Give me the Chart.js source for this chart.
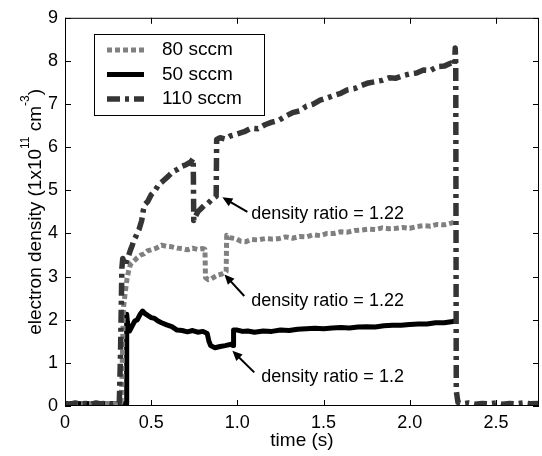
<!DOCTYPE html>
<html lang="en">
<head>
<meta charset="UTF-8">
<title>electron density vs time</title>
<script src="https://cdn.jsdelivr.net/npm/chart.js"></script>
<style>
  html, body { margin: 0; padding: 0; background: #fff; }
</style>
</head>
<body>
<canvas id="densityChart" width="542" height="456"></canvas>
<script>
// time (s) / electron density (1e11 cm^-3), one pair per flow rate
const t80 = [0, 0.05, 0.10, 0.15, 0.20, 0.25, 0.30, 0.325, 0.33, 0.335,
  0.34, 0.35, 0.36, 0.37, 0.38, 0.40, 0.42, 0.44, 0.46, 0.48,
  0.50, 0.53, 0.56, 0.59, 0.62, 0.65, 0.68, 0.71, 0.74, 0.77,
  0.80, 0.812, 0.815, 0.83, 0.85, 0.87, 0.89, 0.91, 0.93, 0.935,
  0.938, 0.96, 0.99, 1.02, 1.05, 1.08, 1.12, 1.16, 1.20, 1.24,
  1.28, 1.32, 1.36, 1.40, 1.44, 1.48, 1.52, 1.56, 1.60, 1.64,
  1.68, 1.72, 1.76, 1.80, 1.84, 1.88, 1.92, 1.96, 2.00, 2.04,
  2.08, 2.12, 2.16, 2.20, 2.24, 2.265];
const n80 = [0.05, 0.06, 0.05, 0.06, 0.05, 0.06, 0.05, 0.08, 0.6, 1.6,
  2.3, 2.65, 2.95, 3.15, 3.28, 3.36, 3.44, 3.5, 3.53, 3.6,
  3.62, 3.66, 3.73, 3.7, 3.69, 3.66, 3.65, 3.62, 3.66, 3.63,
  3.65, 3.63, 2.98, 2.93, 2.95, 3.0, 3.04, 3.06, 3.1, 3.12,
  3.96, 3.9, 3.88, 3.82, 3.81, 3.86, 3.85, 3.88, 3.87, 3.88,
  3.92, 3.89, 3.93, 3.92, 3.97, 3.95, 4.0, 4.0, 4.04, 4.03,
  4.07, 4.08, 4.1, 4.09, 4.13, 4.11, 4.12, 4.14, 4.12, 4.16,
  4.18, 4.17, 4.21, 4.2, 4.24, 4.27];

const t50 = [0, 0.05, 0.10, 0.15, 0.20, 0.25, 0.30, 0.355, 0.358, 0.362,
  0.368, 0.375, 0.39, 0.405, 0.42, 0.435, 0.45, 0.465, 0.48, 0.50,
  0.52, 0.54, 0.56, 0.59, 0.62, 0.65, 0.68, 0.71, 0.74, 0.77,
  0.80, 0.825, 0.835, 0.845, 0.87, 0.90, 0.93, 0.96, 0.975, 0.978,
  1.00, 1.03, 1.06, 1.10, 1.15, 1.20, 1.25, 1.30, 1.35, 1.40,
  1.45, 1.50, 1.55, 1.60, 1.65, 1.70, 1.75, 1.80, 1.85, 1.90,
  1.95, 2.00, 2.05, 2.10, 2.15, 2.20, 2.25, 2.27];
const n50 = [0.05, 0.06, 0.05, 0.06, 0.05, 0.06, 0.05, 0.05, 2.13, 1.95,
  1.78, 1.74, 1.86, 1.97, 2.0, 2.12, 2.2, 2.14, 2.1, 2.05,
  2.03, 1.97, 1.93, 1.88, 1.84, 1.76, 1.75, 1.72, 1.75, 1.71,
  1.73, 1.68, 1.5, 1.4, 1.35, 1.38, 1.4, 1.43, 1.4, 1.76,
  1.76, 1.73, 1.74, 1.71, 1.74, 1.73, 1.76, 1.75, 1.78, 1.79,
  1.8, 1.79, 1.81, 1.82, 1.81, 1.83, 1.84, 1.83, 1.86, 1.87,
  1.87, 1.89, 1.9, 1.9, 1.93, 1.93, 1.96, 1.98];

const t110 = [0, 0.03, 0.06, 0.09, 0.12, 0.15, 0.18, 0.21, 0.24, 0.27,
  0.30, 0.315, 0.322, 0.33, 0.335, 0.34, 0.35, 0.36, 0.37, 0.38,
  0.39, 0.40, 0.41, 0.42, 0.43, 0.445, 0.455, 0.465, 0.48, 0.50,
  0.52, 0.545, 0.57, 0.60, 0.625, 0.65, 0.68, 0.705, 0.73, 0.744,
  0.747, 0.755, 0.77, 0.79, 0.81, 0.83, 0.85, 0.87, 0.877, 0.88,
  0.90, 0.93, 0.96, 1.00, 1.04, 1.08, 1.12, 1.16, 1.20, 1.24,
  1.28, 1.32, 1.36, 1.40, 1.44, 1.48, 1.52, 1.56, 1.60, 1.64,
  1.68, 1.72, 1.76, 1.80, 1.84, 1.88, 1.92, 1.96, 2.00, 2.04,
  2.08, 2.12, 2.16, 2.20, 2.24, 2.26, 2.264, 2.267, 2.27, 2.28,
  2.30, 2.34, 2.38, 2.42, 2.46, 2.50, 2.54, 2.58, 2.62, 2.66,
  2.70, 2.75];
const n110 = [0.06, 0.04, 0.07, 0.05, 0.06, 0.04, 0.07, 0.05, 0.06, 0.04,
  0.06, 0.08, 1.2, 3.2, 3.42, 3.36, 3.28, 3.38, 3.5, 3.62,
  3.72, 3.85, 3.92, 4.02, 4.1, 4.3, 4.55, 4.68, 4.74, 4.9,
  4.98, 5.14, 5.22, 5.33, 5.43, 5.48, 5.56, 5.6, 5.66, 5.74,
  4.3, 4.38, 4.5, 4.58, 4.66, 4.7, 4.78, 4.84, 4.86, 6.18,
  6.22, 6.19, 6.26, 6.31, 6.36, 6.44, 6.43, 6.52, 6.58, 6.62,
  6.72, 6.8, 6.84, 6.95, 7.0, 7.09, 7.14, 7.2, 7.25, 7.33,
  7.36, 7.43, 7.49, 7.52, 7.55, 7.61, 7.6, 7.66, 7.7, 7.72,
  7.79, 7.78, 7.87, 7.88, 7.95, 7.9, 8.3, 7.95, 0.35, 0.08,
  0.05, 0.07, 0.04, 0.06, 0.05, 0.07, 0.04, 0.06, 0.05, 0.07,
  0.05, 0.06];

const seriesNames = ["80 sccm", "50 sccm", "110 sccm"];
const xTickVals = [0, 0.5, 1, 1.5, 2, 2.5];
const yTickVals = [0, 1, 2, 3, 4, 5, 6, 7, 8, 9];

// arrow notes, in data coords (head, tail, text start)
const notes = [
  { head: [0.913, 4.84], tail: [1.058, 4.50], at: [1.081, 4.45], text: "density ratio = 1.22" },
  { head: [0.925, 3.05], tail: [1.040, 2.55], at: [1.081, 2.43], text: "density ratio = 1.22" },
  { head: [0.971, 1.28], tail: [1.098, 0.78], at: [1.139, 0.665], text: "density ratio = 1.2" }
];

const FONT = "'Liberation Sans', Arial, sans-serif";
const pts = (ts, vs) => ts.map((t, i) => ({ x: t, y: vs[i] }));

function arrow(ctx, x0, y0, x1, y1) {
  const a = Math.atan2(y1 - y0, x1 - x0);
  const len = 10, w = 4.5;
  ctx.beginPath();
  ctx.moveTo(x0, y0);
  ctx.lineTo(x1 - Math.cos(a) * len * 0.7, y1 - Math.sin(a) * len * 0.7);
  ctx.stroke();
  ctx.beginPath();
  ctx.moveTo(x1, y1);
  ctx.lineTo(x1 - len * Math.cos(a) + w * Math.sin(a), y1 - len * Math.sin(a) - w * Math.cos(a));
  ctx.lineTo(x1 - len * Math.cos(a) - w * Math.sin(a), y1 - len * Math.sin(a) + w * Math.cos(a));
  ctx.closePath();
  ctx.fill();
}

const extras = {
  id: "extras",
  afterDatasetsDraw(chart) {
    const { ctx, chartArea: a, scales: { x, y } } = chart;
    ctx.save();

    // box + inward ticks on all sides
    ctx.strokeStyle = "#000";
    ctx.lineWidth = 1;
    ctx.strokeRect(a.left + 0.5, a.top + 0.5, a.right - a.left - 1, a.bottom - a.top - 1);
    ctx.beginPath();
    x.ticks.forEach(tk => {
      const px = Math.round(x.getPixelForValue(tk.value)) + 0.5;
      ctx.moveTo(px, a.bottom); ctx.lineTo(px, a.bottom - 6);
      ctx.moveTo(px, a.top); ctx.lineTo(px, a.top + 6);
    });
    y.ticks.forEach(tk => {
      const py = Math.round(y.getPixelForValue(tk.value)) + 0.5;
      ctx.moveTo(a.left, py); ctx.lineTo(a.left + 6, py);
      ctx.moveTo(a.right, py); ctx.lineTo(a.right - 6, py);
    });
    ctx.stroke();

    // legend box
    const lx = 94, ly = 34, lw = 170, lh = 81;
    ctx.fillStyle = "#fff";
    ctx.fillRect(lx, ly, lw, lh);
    ctx.strokeRect(lx + 0.5, ly + 0.5, lw, lh);
    ctx.font = "19px " + FONT;
    ctx.textBaseline = "middle";
    ctx.textAlign = "left";
    seriesNames.forEach((name, i) => {
      const ds = chart.data.datasets.find(d => d.label === name);
      const ry = 50 + i * 24.5;
      ctx.save();
      ctx.strokeStyle = ds.borderColor;
      ctx.lineWidth = ds.borderWidth;
      ctx.setLineDash(ds.borderDash || []);
      ctx.beginPath();
      ctx.moveTo(107, ry);
      ctx.lineTo(144, ry);
      ctx.stroke();
      ctx.restore();
      ctx.fillStyle = "#000";
      ctx.fillText(name, 162, ry);
    });

    // annotations
    ctx.strokeStyle = "#000";
    ctx.fillStyle = "#000";
    ctx.lineWidth = 2;
    ctx.font = "18px " + FONT;
    notes.forEach(n => {
      arrow(ctx,
        x.getPixelForValue(n.tail[0]), y.getPixelForValue(n.tail[1]),
        x.getPixelForValue(n.head[0]), y.getPixelForValue(n.head[1]));
      ctx.fillText(n.text, x.getPixelForValue(n.at[0]), y.getPixelForValue(n.at[1]));
    });
    ctx.restore();
  },
  afterDraw(chart) {
    // y title with superscripts
    const { ctx, chartArea: a } = chart;
    const parts = [["electron density (1x10", false], ["11", true], [" cm", false], ["-3", true], [")", false]];
    const big = "19px " + FONT, small = "12px " + FONT;
    ctx.save();
    let total = 0;
    parts.forEach(p => { ctx.font = p[1] ? small : big; total += ctx.measureText(p[0]).width; });
    ctx.translate(41, (a.top + a.bottom) / 2);
    ctx.rotate(-Math.PI / 2);
    ctx.fillStyle = "#000";
    ctx.textBaseline = "alphabetic";
    ctx.textAlign = "left";
    let cx = -total / 2;
    parts.forEach(p => {
      ctx.font = p[1] ? small : big;
      ctx.fillText(p[0], cx, p[1] ? -12 : 0);
      cx += ctx.measureText(p[0]).width;
    });
    ctx.restore();
  }
};

const ctx = document.getElementById("densityChart").getContext("2d");
new Chart(ctx, {
  type: "line",
  data: {
    datasets: [
      {
        label: seriesNames[0], data: pts(t80, n80),
        borderColor: "#808080", borderWidth: 5, borderDash: [5, 3], order: 1
      },
      {
        label: seriesNames[1], data: pts(t50, n50),
        borderColor: "#000000", borderWidth: 5, order: 2
      },
      {
        label: seriesNames[2], data: pts(t110, n110),
        borderColor: "#353535", borderWidth: 5.5, borderDash: [13, 5, 4, 5], order: 0
      }
    ]
  },
  options: {
    responsive: false,
    animation: false,
    devicePixelRatio: 1,
    elements: {
      point: { radius: 0 },
      line: { tension: 0, fill: false, borderCapStyle: "butt", borderJoinStyle: "round" }
    },
    layout: { padding: { top: 14, right: 3, left: 0, bottom: 0 } },
    plugins: { legend: { display: false }, tooltip: { enabled: false } },
    scales: {
      x: {
        type: "linear", min: 0, max: 2.75,
        afterBuildTicks: s => { s.ticks = xTickVals.map(v => ({ value: v })); },
        afterFit: s => { s.height = 50; },
        grid: { display: false, drawTicks: false },
        border: { display: false },
        ticks: { color: "#000", font: { family: FONT, size: 18 }, padding: 6, maxRotation: 0 },
        title: { display: true, text: "time (s)", color: "#000", font: { family: FONT, size: 19 }, padding: { top: 0, bottom: 4 } }
      },
      y: {
        type: "linear", min: 0, max: 9,
        afterBuildTicks: s => { s.ticks = yTickVals.map(v => ({ value: v })); },
        afterFit: s => { s.width = 65; },
        grid: { display: false, drawTicks: false },
        border: { display: false },
        ticks: { color: "#000", font: { family: FONT, size: 18 }, padding: 7 }
      }
    }
  },
  plugins: [extras]
});
</script>
</body>
</html>
